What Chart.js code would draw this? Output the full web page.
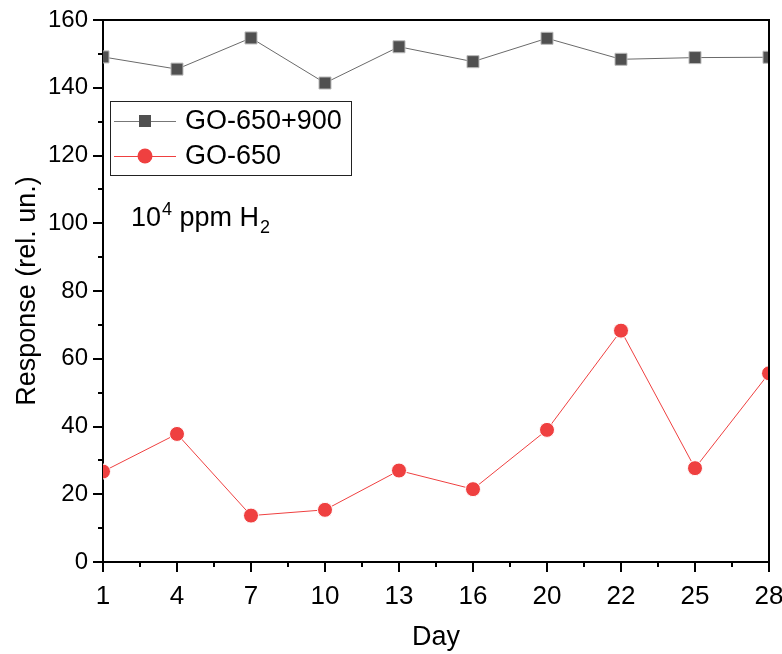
<!DOCTYPE html>
<html>
<head>
<meta charset="utf-8">
<script src="https://cdn.jsdelivr.net/npm/chart.js@4.4.1/dist/chart.umd.min.js"></script>
<style>
  html, body { margin: 0; padding: 0; background: #fff; }
  #wrap { width: 782px; height: 654px; }
</style>
</head>
<body>
<div id="wrap"><canvas id="chart" width="782" height="654"></canvas></div>
<script>
// data
const days = ['1', '4', '7', '10', '13', '16', '20', '22', '25', '28'];
const go650_900 = [149.1, 145.5, 154.7, 141.4, 152.1, 147.7, 154.6, 148.4, 148.9, 149.0];
const go650 = [26.7, 37.8, 13.7, 15.4, 27.0, 21.5, 39.0, 68.3, 27.7, 55.7];
const legendLabels = ['GO-650+900', 'GO-650'];

const FONT = "'Liberation Sans', Arial, sans-serif";
const GREY = '#505050';
const RED = '#ef4040';

// frame, minor ticks, legend box and the text label
const extras = {
    id: 'extras',
    afterDraw(chart) {
        const ctx = chart.ctx;
        const area = chart.chartArea;
        const x = chart.scales.x;
        const y = chart.scales.y;
        ctx.save();
        ctx.strokeStyle = '#000';
        ctx.lineWidth = 2;
        // top + right frame
        ctx.beginPath();
        ctx.moveTo(area.left, area.top);
        ctx.lineTo(area.right, area.top);
        ctx.lineTo(area.right, area.bottom);
        ctx.stroke();
        // minor ticks
        ctx.beginPath();
        for (let v = 10; v < 160; v += 20) {
            const py = Math.round(y.getPixelForValue(v));
            ctx.moveTo(area.left, py);
            ctx.lineTo(area.left - 5, py);
        }
        for (let i = 0; i < days.length - 1; i++) {
            const px = Math.round(x.getPixelForValue(i + 0.5));
            ctx.moveTo(px, area.bottom);
            ctx.lineTo(px, area.bottom + 5);
        }
        ctx.stroke();

        // legend
        const lx = 110, ly = 101, lw = 241, lh = 74;
        ctx.fillStyle = '#fff';
        ctx.fillRect(lx, ly, lw, lh);
        ctx.lineWidth = 1;
        ctx.strokeStyle = '#222';
        ctx.strokeRect(lx + 0.5, ly + 0.5, lw, lh);
        const rows = [
            { label: legendLabels[0], color: GREY, line: '#777', style: 'rect', cy: 121 },
            { label: legendLabels[1], color: RED, line: RED, style: 'circle', cy: 156 }
        ];
        rows.forEach(r => {
            ctx.strokeStyle = r.line;
            ctx.lineWidth = 1;
            ctx.beginPath();
            ctx.moveTo(114, r.cy + 0.5);
            ctx.lineTo(176, r.cy + 0.5);
            ctx.stroke();
            ctx.fillStyle = r.color;
            if (r.style === 'rect') {
                ctx.fillRect(139, r.cy - 6, 12, 12);
            } else {
                ctx.beginPath();
                ctx.arc(145, r.cy, 7.5, 0, Math.PI * 2);
                ctx.fill();
            }
            ctx.fillStyle = '#000';
            ctx.font = '27px ' + FONT;
            ctx.textBaseline = 'middle';
            ctx.textAlign = 'left';
            ctx.fillText(r.label, 185, r.cy + 1);
        });

        // 10^4 ppm H2
        ctx.fillStyle = '#000';
        ctx.textBaseline = 'alphabetic';
        ctx.font = '27px ' + FONT;
        let tx = 131;
        const base = 226;
        ctx.fillText('10', tx, base);
        tx += ctx.measureText('10').width;
        ctx.font = '18px ' + FONT;
        ctx.fillText('4', tx + 1, base - 11);
        tx += ctx.measureText('4').width + 1;
        ctx.font = '27px ' + FONT;
        ctx.fillText(' ppm H', tx, base);
        tx += ctx.measureText(' ppm H').width;
        ctx.font = '18px ' + FONT;
        ctx.fillText('2', tx + 1, base + 7);
        ctx.restore();
    }
};

const ctx = document.getElementById('chart').getContext('2d');
const chart = new Chart(ctx, {
    type: 'line',
    data: {
        labels: days,
        datasets: [{
            label: legendLabels[0],
            data: go650_900,
            borderColor: '#6a6a6a',
            borderWidth: 1,
            backgroundColor: GREY,
            pointStyle: 'rect',
            pointRadius: 8.5,
            pointBackgroundColor: GREY,
            pointBorderColor: '#bbbbbb',
            pointBorderWidth: 1,
            tension: 0,
            clip: 0
        }, {
            label: legendLabels[1],
            data: go650,
            borderColor: RED,
            borderWidth: 1,
            backgroundColor: RED,
            pointStyle: 'circle',
            pointRadius: 7.5,
            pointBackgroundColor: RED,
            pointBorderColor: '#ffffff',
            pointBorderWidth: 1,
            tension: 0,
            clip: 0
        }]
    },
    options: {
        responsive: false,
        animation: false,
        events: [],
        layout: { padding: { top: 20, right: 13, left: 0, bottom: 0 } },
        plugins: {
            legend: { display: false },
            tooltip: { enabled: false }
        },
        scales: {
            x: {
                type: 'category',
                offset: false,
                border: { color: '#000', width: 2 },
                grid: { drawOnChartArea: false, drawTicks: true, tickLength: 10, color: '#000', lineWidth: 2 },
                ticks: { color: '#000', font: { family: FONT, size: 26 }, padding: 9, maxRotation: 0, autoSkip: false },
                title: { display: true, text: 'Day', color: '#000', font: { family: FONT, size: 27 }, padding: { top: 0, bottom: 0 } },
                afterFit(scale) {
                    scale.height = 92;
                    scale.paddingLeft = 0;
                    scale.paddingRight = 0;
                }
            },
            y: {
                min: 0,
                max: 160,
                border: { color: '#000', width: 2 },
                grid: { drawOnChartArea: false, drawTicks: true, tickLength: 10, color: '#000', lineWidth: 2 },
                ticks: { stepSize: 20, color: '#000', font: { family: FONT, size: 24 }, padding: 5 },
                title: { display: true, text: 'Response (rel. un.)', color: '#000', font: { family: FONT, size: 27 }, padding: { top: 11, bottom: 0 } },
                afterFit(scale) {
                    scale.width = 103;
                    scale.paddingTop = 0;
                    scale.paddingBottom = 0;
                }
            }
        }
    },
    plugins: [extras]
});
</script>
</body>
</html>
